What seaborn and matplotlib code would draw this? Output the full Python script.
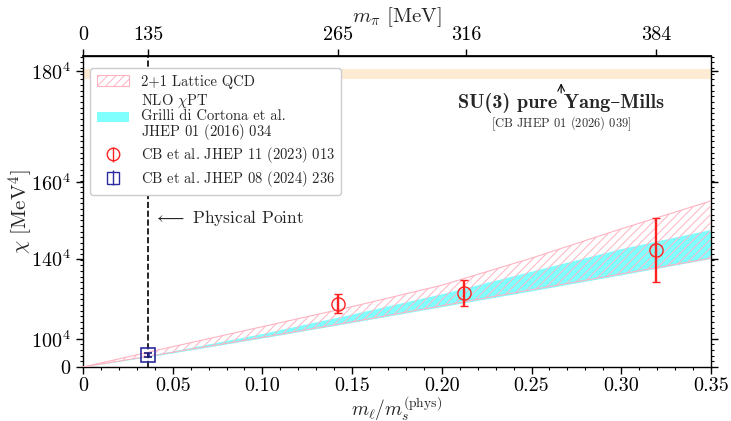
import numpy as np
import pandas as pd
import matplotlib
matplotlib.use("Agg")
import matplotlib.pyplot as plt
import matplotlib.patches as mpatches
from matplotlib.ticker import FixedLocator, FixedFormatter, MultipleLocator
import seaborn as sns

# ---------------- data ----------------
band_x = [0.0, 0.05, 0.10, 0.15, 0.20, 0.25, 0.30, 0.35]
lattice_hi = [0.0, 0.72e8, 1.43e8, 2.14e8, 2.90e8, 3.86e8, 4.90e8, 5.89e8]
lattice_lo = [0.0, 0.52e8, 1.05e8, 1.60e8, 2.17e8, 2.74e8, 3.30e8, 3.86e8]
chpt_hi = [0.0, 0.57e8, 1.19e8, 1.88e8, 2.60e8, 3.40e8, 4.20e8, 4.88e8]
chpt_lo = [0.0, 0.50e8, 1.03e8, 1.58e8, 2.14e8, 2.70e8, 3.27e8, 3.85e8]

red_x = [0.142, 0.2125, 0.3195]
red_y = [2.25e8, 2.635e8, 4.15e8]
red_err = [0.33e8, 0.46e8, 1.12e8]

blue_x = [0.0365]
blue_y = [0.44e8]
blue_err = [0.07e8]

ym_lo, ym_hi = 1.020e9, 1.056e9   # SU(3) pure Yang-Mills band
phys_x = 0.0365

y_ticks = [0.0, 100.0**4, 140.0**4, 160.0**4, 180.0**4]
y_labels = ["$0$", "$100^4$", "$140^4$", "$160^4$", "$180^4$"]
x_ticks = [0.0, 0.05, 0.10, 0.15, 0.20, 0.25, 0.30, 0.35]
x_labels = ["0", "0.05", "0.10", "0.15", "0.20", "0.25", "0.30", "0.35"]
top_ticks = [0.0, 0.0365, 0.142, 0.2135, 0.3195]
top_labels = ["0", "135", "265", "316", "384"]

# ---------------- style ----------------
sns.set_theme(style="ticks")
plt.rcParams["font.family"] = ["cmr10", "DejaVu Serif"]
plt.rcParams["mathtext.fontset"] = "cm"
plt.rcParams["axes.formatter.use_mathtext"] = True
plt.rcParams["hatch.linewidth"] = 0.7
plt.rcParams["axes.edgecolor"] = "black"
plt.rcParams["xtick.color"] = "black"
plt.rcParams["ytick.color"] = "black"

fig = plt.figure(figsize=(7.31, 4.21), dpi=100)
ax = fig.add_axes([0.1135, 0.1283, 0.8591, 0.7387])

band_df = pd.DataFrame({"x": band_x, "lat_hi": lattice_hi, "lat_lo": lattice_lo,
                        "chpt_hi": chpt_hi, "chpt_lo": chpt_lo})

# Yang-Mills band
ax.axhspan(ym_lo, ym_hi, color="#fdebd3", lw=0, zorder=1)

# NLO ChPT band
ax.fill_between(band_df["x"], band_df["chpt_lo"], band_df["chpt_hi"],
                color="#80ffff", lw=0, zorder=2)

# Lattice band (hatched)
ax.fill_between(band_df["x"], band_df["lat_lo"], band_df["lat_hi"],
                facecolor="none", edgecolor="#ffb3c1", hatch="////", lw=0, zorder=3)
sns.lineplot(data=band_df, x="x", y="lat_hi", ax=ax, color="#ffb3c1", lw=0.8, zorder=3)
sns.lineplot(data=band_df, x="x", y="lat_lo", ax=ax, color="#ffb3c1", lw=0.8, zorder=3)

# physical point line
ax.axvline(phys_x, color="black", ls="--", lw=1.2, zorder=2.5)

# data points
ax.errorbar(red_x, red_y, yerr=red_err, fmt="o", mfc="none", mec="#ff2020",
            ecolor="#ff2020", ms=9.5, mew=1.0, elinewidth=1.7, capsize=3, capthick=1.7, zorder=5)
ax.errorbar(blue_x, blue_y, yerr=blue_err, fmt="s", mfc="none", mec="#2b2b9e",
            ecolor="#1a1a80", ms=9.5, mew=1.2, elinewidth=1.8, capsize=3, capthick=1.4, zorder=5)

# axes
ax.set_xlim(0, 0.35)
ax.set_ylim(0, 1.103e9)
ax.xaxis.set_major_locator(FixedLocator(x_ticks))
ax.xaxis.set_major_formatter(FixedFormatter(x_labels))
ax.xaxis.set_minor_locator(MultipleLocator(0.01))
ax.yaxis.set_major_locator(FixedLocator(y_ticks))
ax.yaxis.set_major_formatter(FixedFormatter(y_labels))
ax.yaxis.set_minor_locator(MultipleLocator(2e7))
ax.tick_params(axis="both", which="major", labelsize=14.5, length=5, width=1, direction="out")
ax.tick_params(axis="x", which="major", pad=2.5)
ax.tick_params(axis="both", which="minor", length=2.5, width=0.8, direction="out")
ax.tick_params(axis="y", which="both", right=True)
ax.tick_params(axis="x", which="both", top=False, bottom=True)
ax.set_xlabel(r"$m_\ell/m_s^{(\mathrm{phys})}$", fontsize=14)
ax.xaxis.set_label_coords(0.5, -0.088)
ax.set_ylabel(r"$\chi$ [MeV$^4$]", fontsize=15)
ax.yaxis.set_label_coords(-0.077, 0.5)
for s in ax.spines.values():
    s.set_visible(True)
    s.set_color("black")
    s.set_linewidth(1.0)

top = ax.secondary_xaxis("top")
top.xaxis.set_major_locator(FixedLocator(top_ticks))
top.xaxis.set_major_formatter(FixedFormatter(top_labels))
top.tick_params(labelsize=14.5, length=5, width=1, direction="out")
top.set_xlabel(r"$m_\pi$ [MeV]", fontsize=15, labelpad=3)

# annotations
ax.text(0.039, 5.28e8, r"$\longleftarrow$ Physical Point", fontsize=12.5,
        ha="left", va="center", zorder=6)
ax.annotate("", xy=(0.2665, ym_lo - 0.004e9), xytext=(0.2665, 0.962e9),
            arrowprops=dict(arrowstyle="->", color="black", lw=0.8), zorder=6)
ax.text(0.2665, 0.935e9, "SU(3) pure Yang–Mills", fontsize=14.5,
        family=["cmb10", "DejaVu Serif"], ha="center", va="center", zorder=6)
ax.text(0.2665, 0.864e9, r"[CB JHEP $\mathbf{01}$ (2026) 039]", fontsize=9,
        color="#333333", ha="center", va="center", zorder=6)

# legend
h_lat = mpatches.Patch(facecolor="white", edgecolor="#ffb3c1", hatch="////", lw=0.8)
h_chpt = mpatches.Patch(facecolor="#80ffff", edgecolor="none")
h_red = ax.errorbar([], [], yerr=[], fmt="o", mfc="none", mec="#ff2020", ecolor="#ff2020",
                    ms=9, mew=1.0, elinewidth=1.0, capsize=3)
h_blue = ax.errorbar([], [], yerr=[], fmt="s", mfc="none", mec="#2b2b9e", ecolor="#2b2b9e",
                     ms=9, mew=1.0, elinewidth=1.0, capsize=3)
labels = ["2+1 Lattice QCD",
          "NLO $\\chi$PT\nGrilli di Cortona et al.\nJHEP $\\mathbf{01}$ (2016) 034",
          r"CB et al. JHEP $\mathbf{11}$ (2023) 013",
          r"CB et al. JHEP $\mathbf{08}$ (2024) 236"]
leg = ax.legend([h_lat, h_chpt, h_red, h_blue], labels, loc="upper left",
                fontsize=10.5, frameon=True, fancybox=True, framealpha=1.0,
                edgecolor="#cccccc", borderpad=0.45, labelspacing=0.22,
                handlelength=2.2, bbox_to_anchor=(0.0, 0.985))
for t in leg.get_texts():
    t.set_linespacing(0.95)
leg.set_zorder(10)

fig.savefig("out.png", dpi=100)
